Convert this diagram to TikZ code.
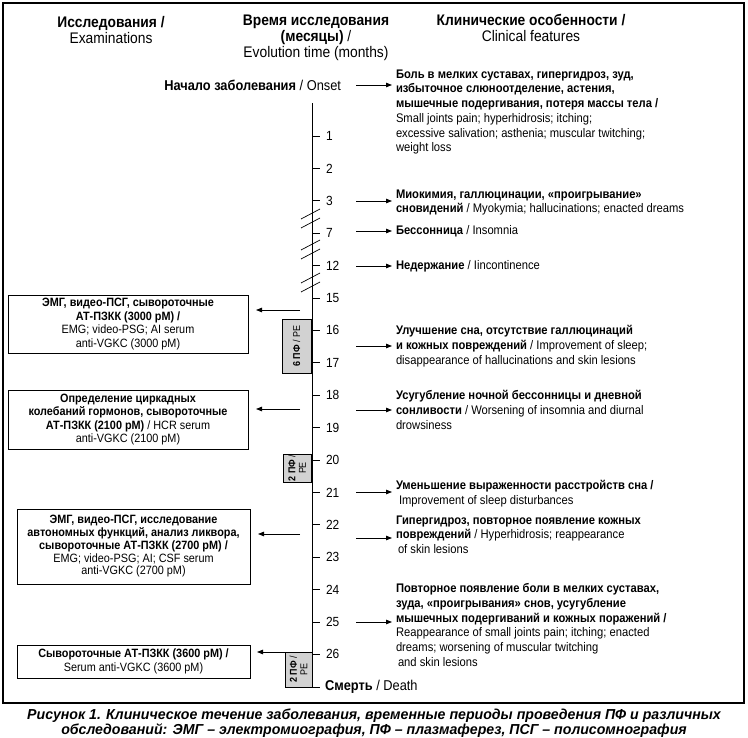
\documentclass[tikz,border=0pt]{standalone}
\usepackage{fontspec}
\setmainfont[FakeStretch=0.9]{Liberation Sans}
\newfontfamily\capfont[FakeStretch=0.98]{Liberation Sans}
\usetikzlibrary{arrows.meta}
\tikzset{
  every node/.style={inner sep=0pt, outer sep=0pt},
  hdr/.style={align=center, font=\fontsize{15.4}{16}\selectfont},
  feat/.style={anchor=north west, align=left, font=\fontsize{12.5}{14.8}\selectfont},
  exam/.style={draw, line width=0.9bp, anchor=north west, align=center, font=\fontsize{12.1}{13.6}\selectfont},
  ticklab/.style={anchor=west, font=\fontsize{13.3}{14}\selectfont},
  pfbox/.style={draw, line width=0.8bp, fill=gray!35, anchor=north west},
  pftext/.style={rotate=90, align=center, font=\fontsize{10}{10.5}\selectfont},
  arr/.style={line width=0.8bp, -{Triangle[length=6bp,width=4.5bp]}},
  brk/.style={line width=0.7bp},
}
\begin{document}
\begin{tikzpicture}[x=1bp,y=-1bp]
\useasboundingbox (0,0) rectangle (748,738);
\draw[line width=1.3bp] (3,3) rectangle (744,703);

% headers
\node[hdr] (h1) at (111,30) {\textbf{Исследования /}\\Examinations};
\node[hdr] (h2) at (316,38) {\textbf{Время исследования}\\\textbf{(месяцы)} /\\Evolution time (months)};
\node[hdr] (h3) at (531,28) {\textbf{Клинические особенности /}\\Clinical features};

% axis
\draw[line width=0.9bp] (312,103) -- (312,687);
\foreach \lab [count=\i from 0] in {1,2,3,7,12,15,16,17,18,19,20,21,22,23,24,25,26} {
  \draw[line width=0.8bp] (312,{136+32.4*\i}) -- ++(8,0) node[ticklab, xshift=6bp] (t\lab) {\lab};
}
\draw[line width=0.8bp] (312,687) -- (320,687) node[ticklab, xshift=5bp, font=\fontsize{14.3}{15}\selectfont] (death) {\textbf{Смерть} / Death};

% breaks
\foreach \c in {218,249,282} {
  \draw[brk] (301,\c+1) -- (320,\c-9);
  \draw[brk] (301,\c+10) -- (320,\c);
}

% onset
\node[anchor=east, font=\fontsize{14.3}{15}\selectfont] (onset) at (341,85) {\textbf{Начало заболевания} / Onset};

% features
\node[feat] (f0) at (396,69.5) {\textbf{Боль в мелких суставах, гипергидроз, зуд,}\\\textbf{избыточное слюноотделение, астения,}\\\textbf{мышечные подергивания, потеря массы тела /}\\Small joints pain; hyperhidrosis; itching;\\excessive salivation; asthenia; muscular twitching;\\weight loss};
\node[feat] (f3) at (396,189.5) {\textbf{Миокимия, галлюцинации, «проигрывание»}\\\textbf{сновидений} / Myokymia; hallucinations; enacted dreams};
\node[feat] (f7) at (396,225.5) {\textbf{Бессонница} / Insomnia};
\node[feat] (f12) at (396,260.5) {\textbf{Недержание} / Iincontinence};
\node[feat] (f16) at (396,325.5) {\textbf{Улучшение сна, отсутствие галлюцинаций}\\\textbf{и кожных повреждений} / Improvement of sleep;\\disappearance of hallucinations and skin lesions};
\node[feat] (f18) at (396,390.5) {\textbf{Усугубление ночной бессонницы и дневной}\\\textbf{сонливости} / Worsening of insomnia and diurnal\\drowsiness};
\node[feat] (f21) at (396,480.5) {\textbf{Уменьшение выраженности расстройств сна /}\\\hspace{3bp}Improvement of sleep disturbances};
\node[feat] (f22) at (396,515.5) {\textbf{Гипергидроз, повторное появление кожных}\\\textbf{повреждений} / Hyperhidrosis; reappearance\\\hspace{2bp}of skin lesions};
\node[feat] (f25) at (396,583.5) {\textbf{Повторное появление боли в мелких суставах,}\\\textbf{зуда, «проигрывания» снов, усугубление}\\\textbf{мышечных подергиваний и кожных поражений /}\\Reappearance of small joints pain; itching; enacted\\dreams; worsening of muscular twitching\\\hspace{2bp}and skin lesions};

% right arrows
\foreach \n/\y in {0/85, 3/201, 7/231, 12/266, 16/346, 18/410, 21/492, 22/538, 25/622} {
  \coordinate (r\n) at (356,\y);
  \draw[arr] (r\n) -- ([xshift=-4bp]f\n.west |- r\n);
}

% exam boxes
\node[exam, minimum width=240bp, minimum height=58bp] (b1) at (8,295) {\textbf{ЭМГ, видео-ПСГ, сывороточные}\\\textbf{АТ-ПЗКК (3000 pM) /}\\EMG; video-PSG; AI serum\\anti-VGKC (3000 pM)};
\node[exam, minimum width=240bp, minimum height=59bp] (b2) at (8,390) {\textbf{Определение циркадных}\\\textbf{колебаний гормонов, сывороточные}\\\textbf{АТ-ПЗКК (2100 pM)} / HCR serum\\anti-VGKC (2100 pM)};
\node[exam, minimum width=233bp, minimum height=75bp, font=\fontsize{12.1}{12.8}\selectfont] (b3) at (17,509) {\textbf{ЭМГ, видео-ПСГ, исследование}\\\textbf{автономных функций, анализ ликвора,}\\\textbf{сывороточные АТ-ПЗКК (2700 pM) /}\\EMG; video-PSG; AI; CSF serum\\anti-VGKC (2700 pM)};
\node[exam, minimum width=233bp, minimum height=33bp] (b4) at (17,645) {\textbf{Сывороточные АТ-ПЗКК (3600 pM) /}\\Serum anti-VGKC (3600 pM)};

% PF boxes
\node[pfbox, minimum width=29bp, minimum height=54bp] (pf1) at (282,319) {};
\node[pftext] (pf1t) at (pf1.center) {\textbf{6 ПФ} / PE};
\node[pfbox, minimum width=28bp, minimum height=28bp] (pf2) at (283,454) {};
\node[pftext] (pf2t) at (pf2.center) {\textbf{2 ПФ} /\\PE};
\node[pfbox, minimum width=27bp, minimum height=35bp] (pf3) at (285,652) {};
\node[pftext] (pf3t) at (pf3.center) {\textbf{2 ПФ} /\\PE};

% left arrows
\foreach \n/\y in {1/310, 2/409, 3/534} {
  \coordinate (l\n) at (300,\y);
  \draw[arr] (l\n) -- ([xshift=8bp]b\n.east |- l\n);
}
\draw[arr] (pf3.north west) -- ([xshift=7bp]b4.east |- pf3.north west);

% caption
\node[align=center, font=\capfont\bfseries\itshape\fontsize{14.5}{14.5}\selectfont] (cap) at (374,723) {Рисунок 1. Клиническое течение заболевания, временные периоды проведения ПФ и различных\\обследований: ЭМГ – электромиография, ПФ – плазмаферез, ПСГ – полисомнография};
\end{tikzpicture}
\end{document}
